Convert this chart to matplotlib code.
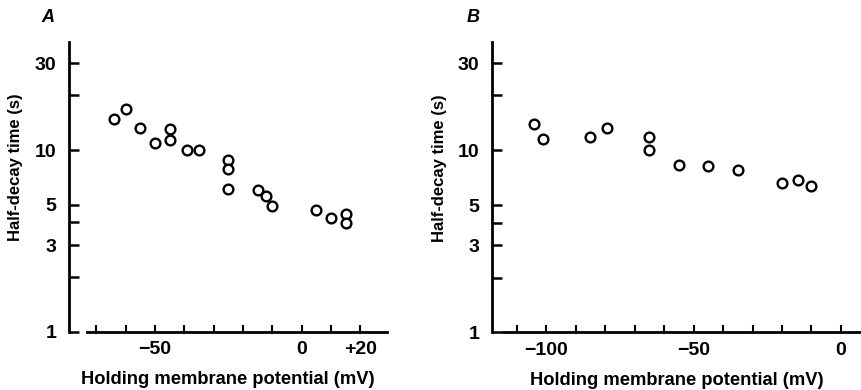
import numpy as np
import matplotlib.pyplot as plt
from matplotlib.ticker import FixedLocator, NullFormatter

plt.rcParams['font.family'] = ['Liberation Sans', 'DejaVu Sans']

# Panel A data (holding potential in mV, half-decay time in s)
A_potential = [-64, -60, -55, -50, -45, -45, -39, -35, -25, -25, -25, -15, -12, -10, 5, 10, 15, 15]
A_halfdecay = [14.9, 16.8, 13.3, 11.0, 13.0, 11.4, 10.0, 10.0, 8.8, 7.9, 6.1, 6.0, 5.6, 4.9, 4.7, 4.25, 4.45, 3.95]

# Panel B data
B_potential = [-104, -101, -85, -79.5, -65, -65, -55, -45, -35, -20, -14.5, -10]
B_halfdecay = [14.0, 11.5, 11.8, 13.3, 11.8, 10.0, 8.3, 8.2, 7.75, 6.6, 6.85, 6.35]

y_major = [1, 3, 5, 10, 30]
y_minor = [2, 4, 20, 40]
A_xticks = [-70, -60, -50, -40, -30, -20, -10, 0, 10, 20]
A_xlabels = {-50: '\u221250', 0: '0', 20: '+20'}
B_xticks = [-110, -100, -90, -80, -70, -60, -50, -40, -30, -20, -10, 0]
B_xlabels = {-100: '\u2212100', -50: '\u221250', 0: '0'}

W, H = 861, 390
fig = plt.figure(figsize=(W / 100, H / 100), dpi=100)


def setup_panel(rect, xlim, xbounds, xticks, xlabels, letter, letter_xy, ylabel_x):
    ax = fig.add_axes(rect)
    ax.set_yscale('log')
    ax.set_xlim(xlim)
    ax.set_ylim(1, 39.5)
    for s in ['top', 'right']:
        ax.spines[s].set_visible(False)
    ax.spines['left'].set_linewidth(2.0)
    ax.spines['bottom'].set_linewidth(2.0)
    ax.spines['bottom'].set_bounds(*xbounds)
    ax.spines['left'].set_bounds(1, 39.5)

    ax.yaxis.set_major_locator(FixedLocator(y_major))
    ax.yaxis.set_minor_locator(FixedLocator(y_minor))
    ax.set_yticklabels([str(v) for v in y_major])
    ax.yaxis.set_minor_formatter(NullFormatter())
    ax.tick_params(axis='y', which='both', direction='in', length=7, width=1.8, pad=9,
                   labelsize=14)
    for lbl in ax.get_yticklabels():
        lbl.set_fontweight('bold')

    ax.set_xticks(xticks)
    ax.set_xticklabels([xlabels.get(t, '') for t in xticks])
    ax.tick_params(axis='x', direction='in', length=5, width=1.5, pad=7, labelsize=14)
    for lbl in ax.get_xticklabels():
        lbl.set_fontweight('bold')

    ax.set_xlabel('Holding membrane potential (mV)', fontsize=13.2, fontweight='bold', labelpad=9)
    ax.set_ylabel('Half-decay time (s)', fontsize=12, fontweight='bold')
    ax.yaxis.set_label_coords(ylabel_x, 0.566)
    fig.text(letter_xy[0] / W, 1 - letter_xy[1] / H, letter, fontsize=13,
             fontweight='bold', fontstyle='italic', ha='center', va='center')
    return ax


axA = setup_panel([69 / W, (H - 331.7) / H, 318 / W, 290 / H], (-79.3, 29.1), (-73.3, 29),
                  A_xticks, A_xlabels, 'A', (48, 17), -0.145)
axA.plot(A_potential, A_halfdecay, 'o', mfc='white', mec='black', ms=7, mew=1.7)

axB = setup_panel([491.7 / W, (H - 332.3) / H, (W - 491.7) / W, 290.6 / H], (-118.5, 6.8),
                  (-114.5, 6.8), B_xticks, B_xlabels, 'B', (472.7, 17), -0.121)
axB.plot(B_potential, B_halfdecay, 'o', mfc='white', mec='black', ms=7, mew=1.7)

fig.savefig('out.png', dpi=100)
